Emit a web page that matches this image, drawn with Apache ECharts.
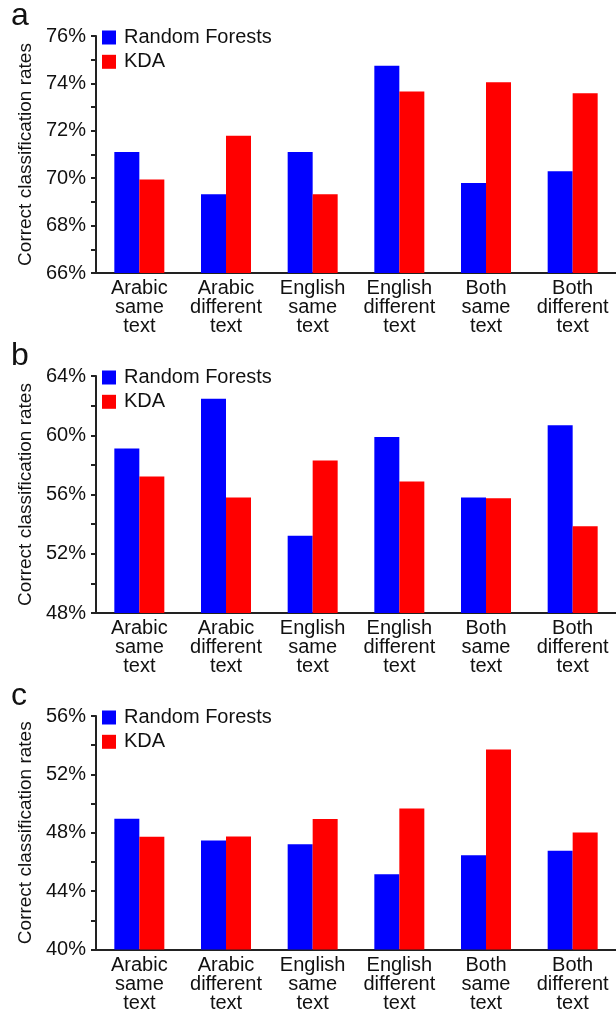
<!DOCTYPE html>
<html>
<head>
<meta charset="utf-8">
<script src="https://cdn.jsdelivr.net/npm/echarts@6/dist/echarts.min.js"></script>
<style>
  html, body { margin: 0; padding: 0; background: #fff; }
  #chart { width: 616px; height: 1013px; }
</style>
</head>
<body>
<div id="chart"></div>
<script>
const categories = ['Arabic\nsame\ntext', 'Arabic\ndifferent\ntext', 'English\nsame\ntext', 'English\ndifferent\ntext', 'Both\nsame\ntext', 'Both\ndifferent\ntext'];
const seriesNames = ['Random Forests', 'KDA'];
const panelLetters = ['a', 'b', 'c'];

const rfA  = [71.11, 69.32, 71.11, 74.74, 69.80, 70.29];
const kdaA = [69.95, 71.79, 69.32, 73.66, 74.05, 73.58];
const rfB  = [59.11, 62.46, 53.21, 59.88, 55.79, 60.67];
const kdaB = [57.21, 55.79, 58.30, 56.87, 55.74, 53.86];
const rfC  = [48.96, 47.47, 47.22, 45.16, 46.45, 46.77];
const kdaC = [47.72, 47.74, 48.94, 49.67, 53.71, 48.01];

const yMins = [66, 48, 40];
const yMaxs = [76, 64, 56];
const yTickSteps = [1, 2, 2];
const yLabelSteps = [2, 4, 4];
const panelData = [[rfA, kdaA], [rfB, kdaB], [rfC, kdaC]];

const FONT = '"Liberation Sans", Arial, Helvetica, sans-serif';
const TXT = '#111';
const BLUE = '#0000ff';
const RED = '#ff0000';
const panelTops = [36, 376, 716];

const grids = [], xAxes = [], yAxes = [], series = [], legends = [], titles = [];
panelTops.forEach((top, i) => {
  grids.push({ left: 96, top: top, width: 525, height: 237, containLabel: false });
  xAxes.push({
    type: 'category', gridIndex: i, data: categories,
    axisLine: { show: true, lineStyle: { color: '#222', width: 2 } },
    axisTick: { show: false },
    axisLabel: { interval: 0, color: TXT, fontFamily: FONT, fontSize: 20, lineHeight: 19, margin: 6 },
    splitLine: { show: false }
  });
  const mn = yMins[i], ls = yLabelSteps[i];
  yAxes.push({
    type: 'value', gridIndex: i, min: mn, max: yMaxs[i], interval: yTickSteps[i],
    name: 'Correct classification rates', nameLocation: 'middle', nameGap: 56,
    nameTextStyle: { color: TXT, fontFamily: FONT, fontSize: 19 },
    axisLine: { show: true, lineStyle: { color: '#222', width: 2 } },
    axisTick: { show: true, length: 5, lineStyle: { color: '#222', width: 2 } },
    axisLabel: {
      color: TXT, fontFamily: FONT, fontSize: 20, margin: 10,
      formatter: v => (Math.round(v - mn) % ls === 0 ? v + '%' : '')
    },
    splitLine: { show: false }
  });
  const [rf, kda] = panelData[i];
  series.push({
    name: seriesNames[0], type: 'bar', xAxisIndex: i, yAxisIndex: i, data: rf,
    barWidth: 25, barGap: '0%', itemStyle: { color: BLUE }, silent: true
  });
  series.push({
    name: seriesNames[1], type: 'bar', xAxisIndex: i, yAxisIndex: i, data: kda,
    barWidth: 25, barGap: '0%', itemStyle: { color: RED }, silent: true
  });
  legends.push({
    data: seriesNames, orient: 'vertical', left: 102, top: top - 8.5, padding: 0,
    itemWidth: 14, itemHeight: 14, itemGap: 4.3, icon: 'rect', selectedMode: false,
    textStyle: { color: TXT, fontFamily: FONT, fontSize: 20, lineHeight: 19, padding: [0, 0, 0, 3] }
  });
  titles.push({
    text: panelLetters[i], left: 11, top: top - 36, padding: 0,
    textStyle: { color: TXT, fontFamily: FONT, fontSize: 32, fontWeight: 'normal', lineHeight: 32 }
  });
});

const chart = echarts.init(document.getElementById('chart'), null, { renderer: 'canvas' });
chart.setOption({
  animation: false,
  backgroundColor: '#fff',
  title: titles,
  legend: legends,
  grid: grids,
  xAxis: xAxes,
  yAxis: yAxes,
  series: series
});
</script>
</body>
</html>
